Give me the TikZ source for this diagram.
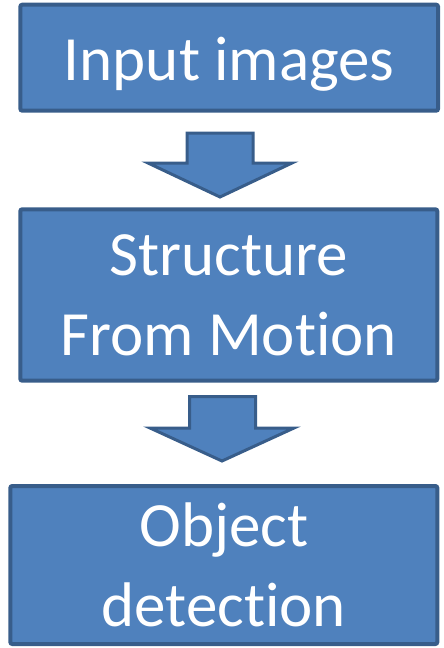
\documentclass[tikz,border=0pt]{standalone}
\usepackage{fontspec}
\setmainfont[Ligatures=NoCommon]{Carlito}
\definecolor{boxfill}{HTML}{4F81BD}
\definecolor{boxline}{HTML}{385D8A}
\begin{document}
\begin{tikzpicture}[x=1pt,y=-1pt,
  stepbox/.style={draw=boxline, fill=boxfill, line width=4pt, rounded corners=2pt,
    inner sep=0pt, outer sep=0pt, text=white, align=center,
    font=\fontsize{63}{80}\selectfont},
  blockarrow/.style={draw=boxline, fill=boxfill, line width=3pt, line join=miter}]
\useasboundingbox (0,0) rectangle (444,648);
\node[stepbox, minimum width=417.7pt, minimum height=106pt, text height=48pt, text depth=3.4pt] (b1) at (229.2,57.7) {Input images};
\node[stepbox, minimum width=417pt, minimum height=171.4pt] (b2) at (228.8,295) {Structure\\From Motion};
\node[stepbox, minimum width=427pt, minimum height=158pt] (b3) at (223.8,565) {Object\\detection};
\draw[blockarrow] (187,133) -- (253,133) -- (253,163) -- (292,163) -- (220,197) -- (148,163) -- (187,163) -- cycle;
\draw[blockarrow] (189.5,396.5) -- (255.5,396.5) -- (255.5,428) -- (294,428) -- (222,461) -- (150,428) -- (189.5,428) -- cycle;
\end{tikzpicture}
\end{document}
